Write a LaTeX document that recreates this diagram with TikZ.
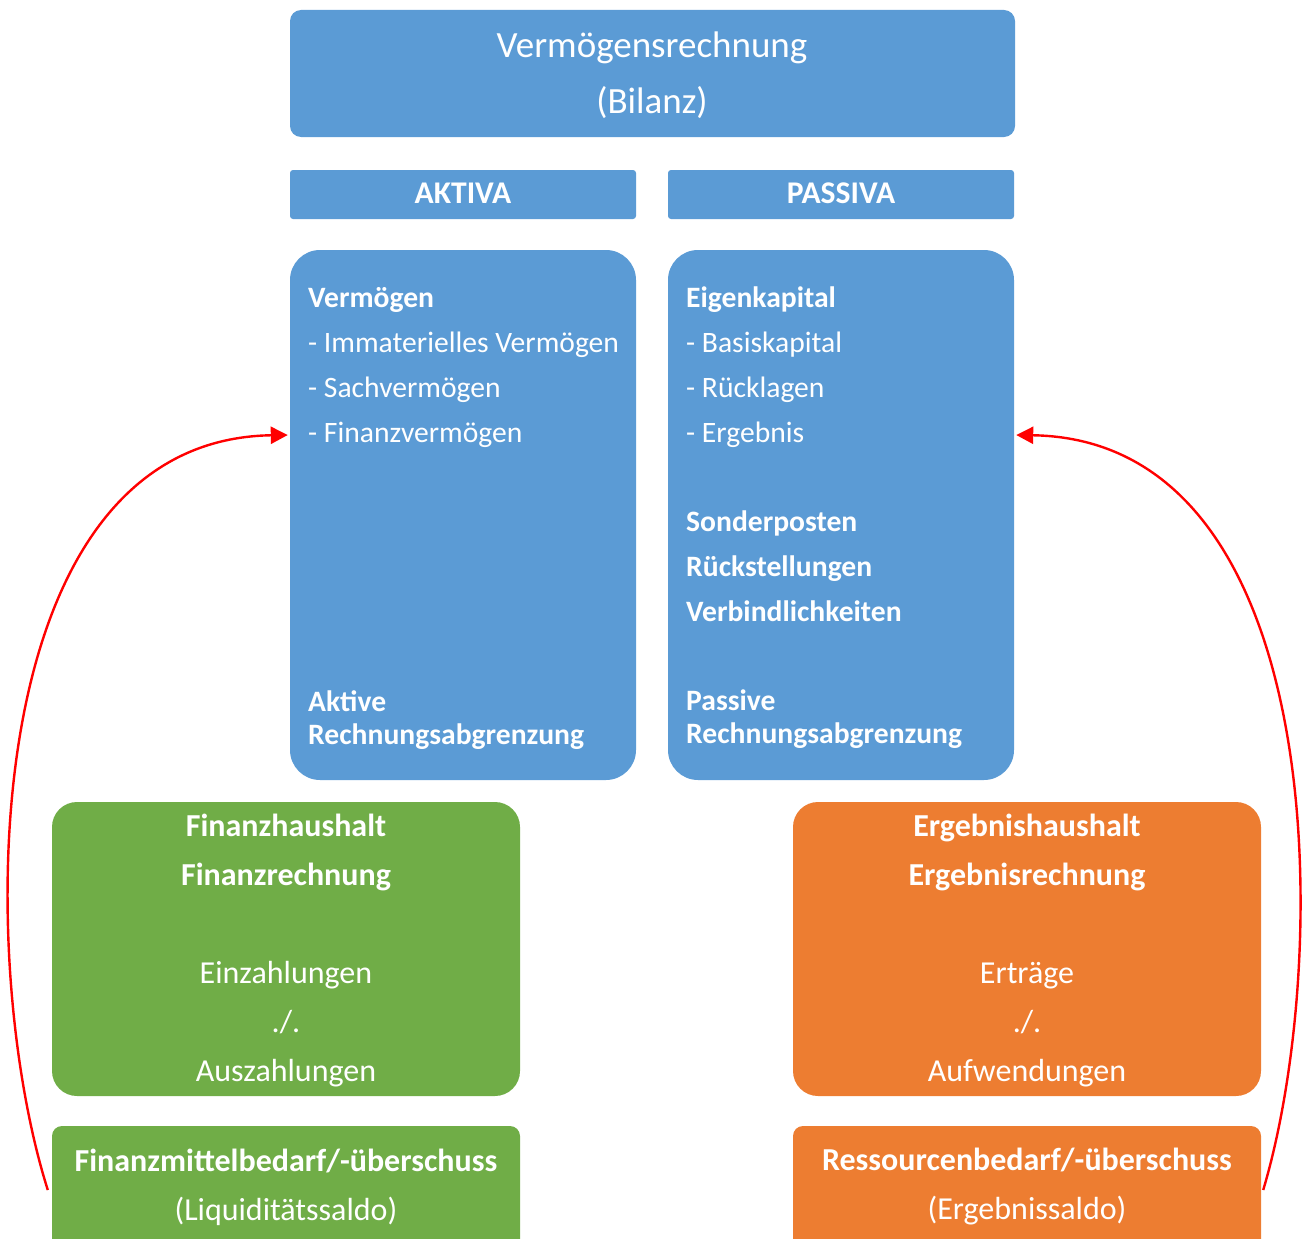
\documentclass[tikz,border=0pt]{standalone}
\usepackage{fontspec}
\setmainfont{Carlito}
\usetikzlibrary{arrows.meta}
\definecolor{cblue}{HTML}{5B9BD5}
\definecolor{cgreen}{HTML}{70AD47}
\definecolor{corange}{HTML}{ED7D31}
\definecolor{cred}{HTML}{FF0000}
\tikzset{
  txt/.style={text=white, inner sep=0pt, font=\fontsize{29.6}{45}\selectfont},
  btxt/.style={text=white, inner sep=0pt, font=\fontsize{29.6}{45}\selectfont\bfseries},
  gtxt/.style={text=white, inner sep=0pt, align=center, font=\fontsize{32}{49}\selectfont},
  anchorbox/.style={inner sep=0pt},
  link/.style={draw=cred, line width=2.4pt, -{Triangle[length=17pt,width=17pt]}},
}
\begin{document}
\begin{tikzpicture}[x=1pt,y=-1pt]
\useasboundingbox (0,0) rectangle (1307,1239);
\begin{scope}
\clip (0,0) rectangle (1307,1239);
% shapes
\fill[cblue, rounded corners=11pt] (290,10) rectangle (1015,137);
\fill[cblue, rounded corners=3pt] (290,170) rectangle (636,219);
\fill[cblue, rounded corners=3pt] (668,170) rectangle (1014,219);
\fill[cblue, rounded corners=30pt] (290,250) rectangle (636,780);
\fill[cblue, rounded corners=30pt] (668,250) rectangle (1014,780);
\fill[cgreen, rounded corners=25pt] (52,802) rectangle (520,1096);
\fill[corange, rounded corners=25pt] (793,802) rectangle (1261,1096);
\fill[cgreen, rounded corners=10pt] (52,1126) rectangle (520,1300);
\fill[corange, rounded corners=10pt] (793,1126) rectangle (1261,1300);
\end{scope}
% anchor nodes matching the boxes
\node[anchorbox, minimum width=346pt, minimum height=530pt] (aktiva) at (463,515) {};
\node[anchorbox, minimum width=346pt, minimum height=530pt] (passiva) at (841,515) {};
\node[anchorbox, minimum width=468pt, minimum height=124pt] (fm) at (286,1188) {};
\node[anchorbox, minimum width=468pt, minimum height=124pt] (rb) at (1027,1188) {};
% texts
\node[txt, font=\fontsize{37}{56}\selectfont, align=center] (title) at (652,75.5) {Vermögensrechnung\\(Bilanz)};
\node[btxt, font=\fontsize{31.6}{45}\selectfont\bfseries] (akt) at (463,193) {AKTIVA};
\node[btxt, font=\fontsize{31.6}{45}\selectfont\bfseries] (pas) at (841,193) {PASSIVA};
\node[txt, anchor=north west, align=left] (aktlist) at (308,287) {\textbf{Vermögen}\\- Immaterielles Vermögen\\- Sachvermögen\\- Finanzvermögen};
\node[btxt, anchor=north west, align=left, font=\fontsize{29.6}{33}\selectfont\bfseries] (arap) at (308,690) {Aktive\\Rechnungsabgrenzung};
\node[txt, anchor=north west, align=left] (paslist) at (686,287) {\textbf{Eigenkapital}\\- Basiskapital\\- Rücklagen\\- Ergebnis\\[44pt]\textbf{Sonderposten}\\\textbf{Rückstellungen}\\\textbf{Verbindlichkeiten}};
\node[btxt, anchor=north west, align=left, font=\fontsize{29.6}{33}\selectfont\bfseries] (prap) at (686,690) {Passive\\Rechnungsabgrenzung};
\node[gtxt] (fh) at (286,950.5) {\textbf{Finanzhaushalt}\\\textbf{Finanzrechnung}\\[49pt]Einzahlungen\\./.\\Auszahlungen};
\node[gtxt] (eh) at (1027,950.5) {\textbf{Ergebnishaushalt}\\\textbf{Ergebnisrechnung}\\[49pt]Erträge\\./.\\Aufwendungen};
\node[gtxt] (fmt) at (286,1187) {\textbf{Finanzmittelbedarf/-überschuss}\\(Liquiditätssaldo)};
\node[gtxt] (rbt) at (1027,1187) {\textbf{Ressourcenbedarf/-überschuss}\\(Ergebnissaldo)};
% connectors
\coordinate (ain) at ([xshift=-2pt,yshift=80pt]aktiva.west);
\coordinate (pin) at ([xshift=2pt,yshift=80pt]passiva.east);
\coordinate (fout) at ([xshift=-4pt,yshift=-2pt]fm.west);
\coordinate (rout) at ([xshift=2pt,yshift=-2pt]rb.east);
\draw[link] (fout) .. controls (-25,960) and (-25,440) .. (ain);
\draw[link] (rout) .. controls (1332,960) and (1332,440) .. (pin);
\end{tikzpicture}
\end{document}
